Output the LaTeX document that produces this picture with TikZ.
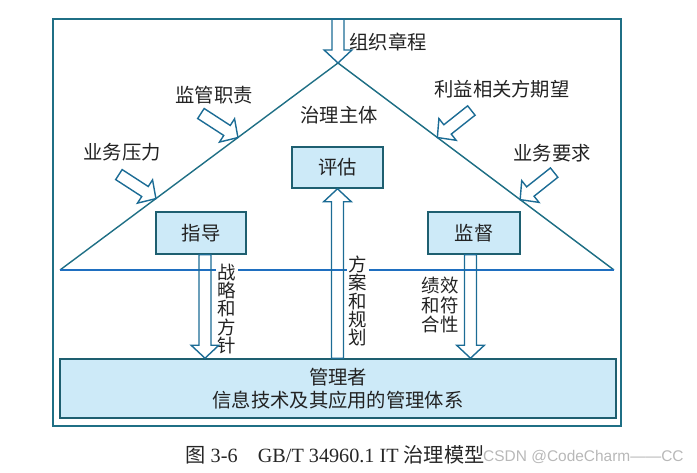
\documentclass[tikz,border=0pt]{standalone}
\usepackage{fontspec}
\setmainfont{Liberation Serif}
\setsansfont{Liberation Sans}
\newfontfamily\cjk{Noto Sans CJK SC}
\usetikzlibrary{calc}

\definecolor{frameteal}{HTML}{1F6F85}
\definecolor{baseblue}{HTML}{1F6FC0}
\definecolor{boxedge}{HTML}{1E5F70}
\definecolor{boxfill}{HTML}{CDEAF8}
\definecolor{arrowedge}{HTML}{1C6C95}
\definecolor{inktext}{HTML}{222222}

% hollow block arrow from #1 to the tip #2
\newcommand{\hollowarrow}[2]{%
  \path ($(#2)!7.4pt!(#1)$) coordinate (#2-h);
  \draw[fatarr] ($(#1)!3.4pt!90:(#2)$) -- ($(#2-h)!3.4pt!-90:(#1)$)
    -- ($(#2-h)!7.9pt!-90:(#1)$) -- (#2) -- ($(#2-h)!7.9pt!90:(#1)$)
    -- ($(#2-h)!3.4pt!90:(#1)$) -- ($(#1)!3.4pt!-90:(#2)$) -- cycle;}

\begin{document}
\begin{tikzpicture}[x=0.02cm, y=-0.02cm, text=inktext, font=\cjk\fontsize{11}{13}\selectfont]
    \tikzset{box/.style={draw=boxedge, fill=boxfill, line width=0.9pt, inner sep=0pt},
             lbl/.style={inner sep=1pt},
             vlbl/.style={align=center, fill=white, inner sep=1pt, font=\cjk\fontsize{10.5}{10.5}\selectfont},
             fatarr/.style={draw=arrowedge, line width=0.8pt, line join=miter}}
    \useasboundingbox (0,0) rectangle (697,473);
    \draw[frameteal, line width=0.9pt] (53,19) rectangle (621,426);
    % roof and base line
    \coordinate (top) at (338,19);
    \coordinate (apex) at (338,63);
    \coordinate (left) at (60,270);
    \coordinate (right) at (614,270);
    \draw[frameteal, line width=0.8pt] (left) -- (apex) -- (right);
    \draw[baseblue, line width=0.8pt] (left) -- (right);
    % boxes
    \node[box, minimum width=1.82cm, minimum height=0.82cm] (eval) at (337.5,167.5) {评估};
    \node[box, minimum width=1.8cm, minimum height=0.84cm] (guide) at (201,233) {指导};
    \node[box, minimum width=1.84cm, minimum height=0.84cm] (monitor) at (474,233) {监督};
    \node[box, minimum width=11.12cm, minimum height=1.18cm, align=center] (mgr) at (338,388.5) {管理者\\信息技术及其应用的管理体系};
    % labels
    \node[lbl] (charter) at (388,42) {组织章程};
    \node[lbl] (duty) at (214,95) {监管职责};
    \node[lbl] (press) at (122,152) {业务压力};
    \node[lbl] (body) at (339,115) {治理主体};
    \node[lbl] (expect) at (502,89) {利益相关方期望};
    \node[lbl] (need) at (552,153) {业务要求};
    \node[vlbl] (strat) at (227,309) {战\\略\\和\\方\\针};
    \node[vlbl] (plan) at (358,301) {方\\案\\和\\规\\划};
    \node[lbl, align=center, font=\cjk\fontsize{10.5}{11.2}\selectfont] (perf) at (440,305) {绩效\\和符\\合性};
    % outer inputs
    \coordinate (t1) at ($(apex)!0.36!(left)$);
    \coordinate (t2) at ($(apex)!0.655!(left)$);
    \coordinate (t3) at ($(apex)!0.36!(right)$);
    \coordinate (t4) at ($(apex)!0.66!(right)$);
    \coordinate (s1) at ($(t1)+(-37,-24)$);
    \coordinate (s2) at ($(t2)+(-37,-24)$);
    \coordinate (s3) at ($(t3)+(34,-27)$);
    \coordinate (s4) at ($(t4)+(34,-27)$);
    \hollowarrow{top}{apex}
    \hollowarrow{s1}{t1}
    \hollowarrow{s2}{t2}
    \hollowarrow{s3}{t3}
    \hollowarrow{s4}{t4}
    % inner flows
    \coordinate (g0) at ($(guide.south)+(4,0)$);
    \coordinate (g1) at (g0 |- mgr.north);
    \coordinate (e0) at (eval.south |- mgr.north);
    \coordinate (e1) at (eval.south);
    \coordinate (m0) at ($(monitor.south)+(-3.5,0)$);
    \coordinate (m1) at (m0 |- mgr.north);
    \hollowarrow{g0}{g1}
    \hollowarrow{e0}{e1}
    \hollowarrow{m0}{m1}
    % caption
    \node[font=\fontsize{11.5}{13}\selectfont, text=black!85] (cap) at (335,455) {{\cjk 图} 3-6\quad GB/T 34960.1 IT {\cjk 治理模型}};
    \node[font=\sffamily\fontsize{8.8}{10}\selectfont, text=black!28, anchor=east, inner sep=0pt] (mark) at (684,457) {CSDN @CodeCharm——CC};
\end{tikzpicture}
\end{document}
